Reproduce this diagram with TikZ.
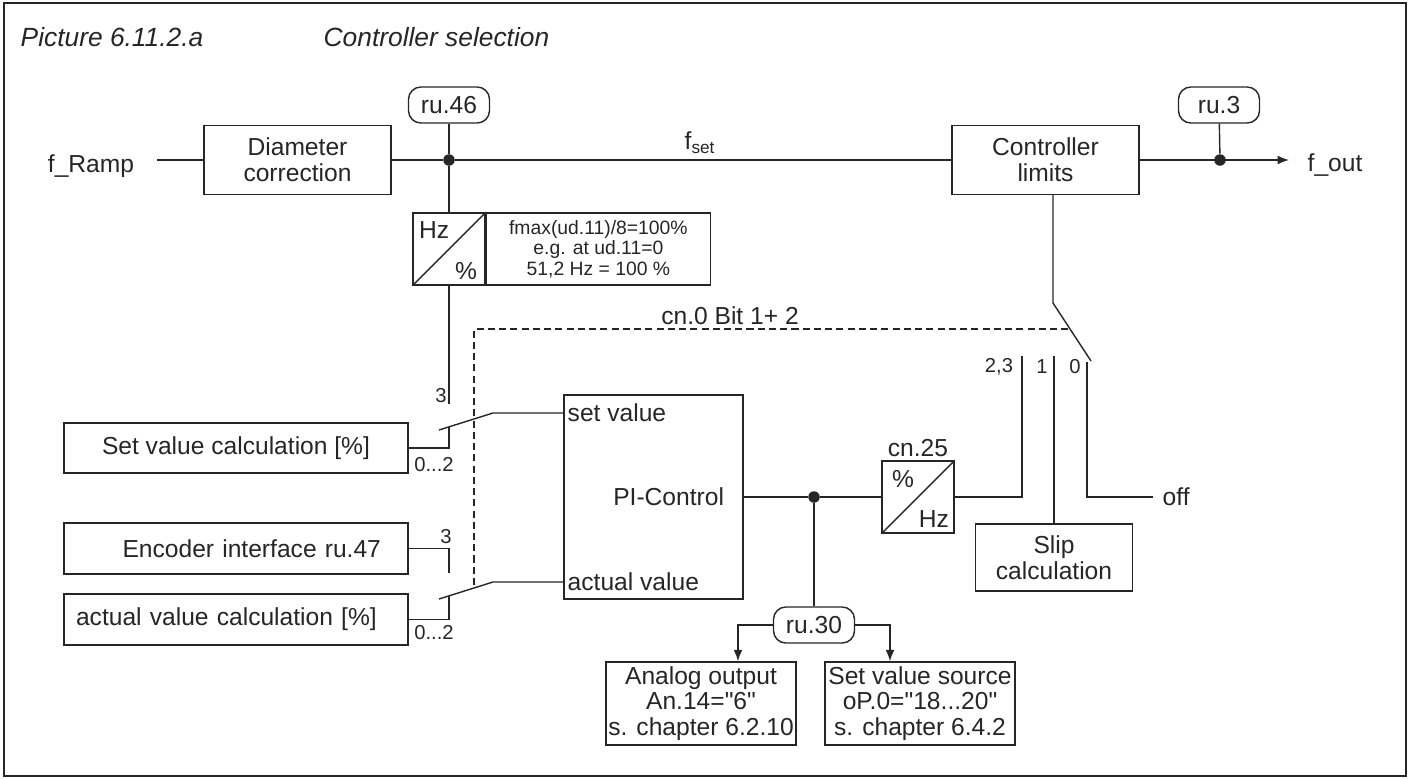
\documentclass[tikz,border=0pt]{standalone}
\usepackage{fontspec}
\setmainfont{Liberation Sans}[Ligatures=TeXOff]
\usetikzlibrary{arrows.meta}
\definecolor{ink}{HTML}{262626}
\tikzset{
  blk/.style={draw=ink, text=ink, rectangle, inner sep=0pt, align=center, font=\fontsize{14}{14.6}\selectfont},
  parm/.style={blk, rounded corners=7pt, minimum width=1.62cm, minimum height=0.72cm},
  conv/.style={draw=ink, rectangle, minimum size=1.44cm, inner sep=0pt},
  jdot/.style={circle, fill=ink, inner sep=0pt, minimum size=0.23cm},
  lbl/.style={text=ink, inner sep=0pt, font=\fontsize{14}{14.6}\selectfont},
  smalllbl/.style={text=ink, inner sep=0pt, font=\fontsize{11.5}{12}\selectfont},
  ttl/.style={text=ink, inner sep=0pt, anchor=west, font=\fontsize{15}{18}\selectfont\itshape},
  tip/.style={-{Latex[length=6.5pt,width=5pt]}}
}
\begin{document}
\begin{tikzpicture}[x=0.02cm, y=-0.02cm, line width=0.8pt, ink]
  \useasboundingbox (0,0) rectangle (1410,778);
  \draw[line width=1.4pt] (4,3) rectangle (1406,776);
  \node[ttl] (pic) at (20,37) {Picture 6.11.2.a};
  \node[ttl] (sel) at (323,37) {Controller selection};
  % Sollwert oben
  \node[lbl] (framp) at (91,166) {f\_Ramp};
  \coordinate (rampend) at (157,160);
  \node[blk, minimum width=3.74cm, minimum height=1.38cm] (diam) at (297.5,160) {Diameter\\correction};
  \node[blk, minimum width=3.74cm, minimum height=1.38cm] (limits) at (1045.5,160) {Controller\\limits};
  \node[jdot] (d1) at (449,160) {};
  \node[parm] (ru46) at (449,105) {ru.46};
  \node[jdot] (d3) at (1220,160) {};
  \node[parm] (ru3) at (1219,105) {ru.3};
  \coordinate (outend) at (1289,160);
  \node[lbl] (fout) at (1335,165) {f\_out};
  \node[lbl] (fset) at (700,143) {f\textsubscript{set}};
  \draw (rampend) -- (diam);
  \draw (diam) -- (d1) -- (limits);
  \draw[tip] (limits) -- (outend);
  \draw (ru3) -- (d3);
  % Hz -> %
  \node[conv] (hz) at (449,249) {};
  \draw (hz.south west) -- (hz.north east);
  \node[lbl, anchor=north west] (hzt) at ([shift={(6,9)}]hz.north west) {Hz};
  \node[lbl, anchor=south east] (hzp) at ([shift={(-8,-5)}]hz.south east) {\%};
  \node[blk, font=\fontsize{11}{11.6}\selectfont, minimum width=4.48cm, minimum height=1.44cm, anchor=west] (note) at (hz.east)
    {fmax(ud.11)/8=100\%\\e.g. at ud.11=0\\51,2 Hz = 100 \%};
  \coordinate (sv3) at (449,404);
  \draw (ru46) -- (d1) -- (hz);
  \draw (hz) -- (sv3);
  \node[smalllbl] (l3a) at (441,396) {3};
  % linke Eingaenge
  \node[blk, minimum width=6.88cm, minimum height=1.0cm] (setcalc) at (236,448) {Set value calculation [\%]};
  \node[blk, minimum width=6.88cm, minimum height=1.02cm, text width=5.8cm, align=right] (enc) at (236,548.5) {Encoder interface ru.47};
  \node[blk, minimum width=6.88cm, minimum height=1.02cm, text width=6.4cm, align=left] (actcalc) at (236,619.5) {actual value calculation [\%]};
  \coordinate (sv02) at (449,427);
  \coordinate (en3) at (449,573);
  \coordinate (av02) at (449,596);
  \draw (setcalc.east) -| (sv02);
  \draw (enc.east) -| (en3);
  \draw (actcalc.east) -| (av02);
  \node[smalllbl] (l02a) at (434,465) {0...2};
  \node[smalllbl] (l3b) at (446,537) {3};
  \node[smalllbl] (l02b) at (434,633) {0...2};
  % PI-Regler
  \node[blk, minimum width=3.58cm, minimum height=4.08cm, text width=2.82cm, align=right] (pi) at (653.5,497) {PI-Control};
  \node[lbl, anchor=base west] (setin) at (567,421) {set value};
  \node[lbl, anchor=base west] (actin) at (567,590) {actual value};
  \coordinate (svpiv) at (493,413);
  \coordinate (svtip) at (439,430);
  \coordinate (avpiv) at (493,582);
  \coordinate (avtip) at (439,599);
  \draw (svtip) -- (svpiv) -- (pi.west |- svpiv);
  \draw (avtip) -- (avpiv) -- (pi.west |- avpiv);
  % Umschaltung cn.0
  \coordinate (dsh1) at (474,585);
  \coordinate (dsh2) at (474,329);
  \coordinate (dsh3) at (1068,329);
  \draw[dash pattern=on 4pt off 2.4pt] (dsh1) -- (dsh2) -- (dsh3);
  \node[lbl] (cn0) at (730,316) {cn.0 Bit 1+ 2};
  % Ausgang PI
  \node[jdot] (d2) at (814,497) {};
  \node[conv] (cn25) at (918,497) {};
  \draw (cn25.south west) -- (cn25.north east);
  \node[lbl, anchor=base] (cn25l) at (918,456) {cn.25};
  \node[lbl, anchor=north west] (cnp) at ([shift={(10,9)}]cn25.north west) {\%};
  \node[lbl, anchor=south east] (cnhz) at ([shift={(-5,-6)}]cn25.south east) {Hz};
  \draw (pi) -- (d2) -- (cn25);
  \node[parm] (ru30) at (814,625) {ru.30};
  \node[blk, minimum width=3.8cm, minimum height=1.66cm] (an) at (701,703.5) {Analog output\\An.14="6"\\s. chapter 6.2.10};
  \node[blk, minimum width=3.8cm, minimum height=1.66cm] (src) at (920,703.5) {Set value source\\oP.0="18...20"\\s. chapter 6.4.2};
  \draw (d2) -- (ru30);
  \draw[tip] (ru30.west) -| ([xshift=0.74cm]an.north);
  \draw[tip] (ru30.east) -| ([xshift=-0.6cm]src.north);
  % Schalter rechts
  \node[blk, minimum width=3.14cm, minimum height=1.34cm] (slip) at (1054,557.5) {Slip\\calculation};
  \coordinate (swtop) at (1053,303);
  \coordinate (swtip) at (1091,361);
  \draw (limits.south -| swtop) -- (swtop) -- (swtip);
  \coordinate (c23) at (1022,356);
  \coordinate (c1) at (1054,356);
  \coordinate (c0) at (1087,362);
  \coordinate (offend) at (1153,497);
  \draw (cn25.east) -| (c23);
  \draw (c1) -- (slip);
  \draw (c0) |- (offend);
  \node[lbl, anchor=base west] (off) at (1162,505) {off};
  \node[smalllbl] (l23) at (999,367) {2,3};
  \node[smalllbl] (l1) at (1042,367) {1};
  \node[smalllbl] (l0) at (1075,367) {0};
\end{tikzpicture}
\end{document}
